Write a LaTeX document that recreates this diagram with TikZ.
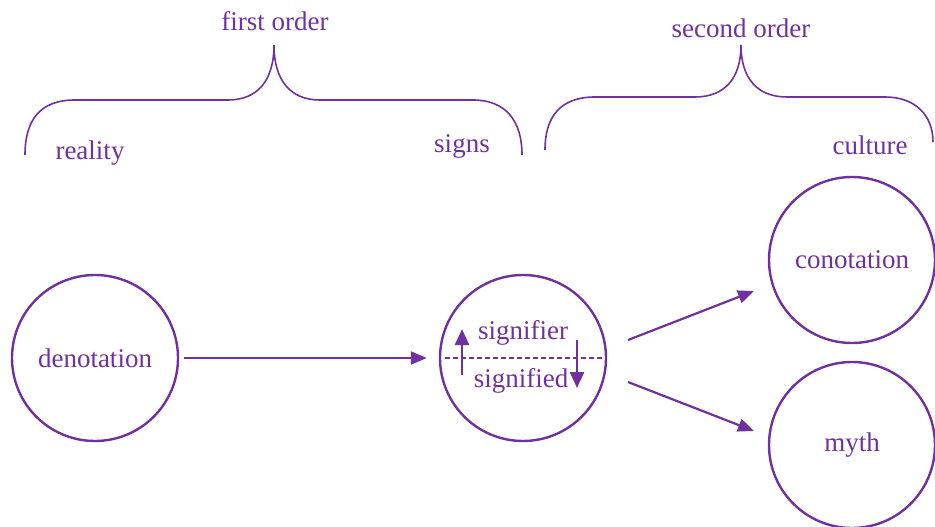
\documentclass[tikz,border=0pt]{standalone}
\usepackage{fontspec}
\setmainfont{Liberation Serif}
\usetikzlibrary{arrows.meta}
\definecolor{purp}{HTML}{7030A0}
\tikzset{
  lbl/.style={text=purp, font=\fontsize{27}{30}\selectfont, inner sep=0pt},
  ring/.style={circle, draw=purp, line width=2.4pt, minimum size=166pt, inner sep=0pt, text=purp, font=\fontsize{27}{30}\selectfont},
  conn/.style={draw=purp, line width=2.2pt, -{Triangle[length=16pt,width=13pt]}},
  brace/.style={draw=purp, line width=1.6pt},
  updown/.style={draw=purp, line width=2.4pt, -{Triangle[length=16pt,width=14pt]}},
}
\begin{document}
\begin{tikzpicture}[x=1pt,y=-1pt]
\useasboundingbox (0,0) rectangle (935,527);
\begin{scope}
\clip (0,0) rectangle (935,527);
% braces
\draw[brace] (25,155) .. controls (25,120) and (40,100) .. (75,100) -- (228,100)
  .. controls (258,100) and (274,80) .. (274,45)
  .. controls (274,80) and (290,100) .. (320,100) -- (473,100)
  .. controls (505,100) and (522,120) .. (522,155);
\draw[brace] (545,150) .. controls (545,117) and (560,97) .. (595,97) -- (695,97)
  .. controls (725,97) and (741,78) .. (741,45)
  .. controls (741,78) and (757,97) .. (787,97) -- (885,97)
  .. controls (915,97) and (933,115) .. (933,142);
% circles
\node[ring] (den) at (95,358) {denotation};
\node[ring] (sig) at (523,358) {};
\node[ring] (con) at (852,260) {conotation};
\node[ring] (myth) at (852,445) {myth};
\end{scope}
% labels
\node[lbl] (fo) at (275,21) {first order};
\node[lbl] (so) at (741,28) {second order};
\node[lbl] (real) at (90,153) {reality};
\node[lbl] (signs) at (462,146) {signs};
\node[lbl] (cult) at (870,145) {culture};
\node[lbl] (sfr) at (523,333) {signifier};
\node[lbl] (sfd) at (521,381) {signified};
% inner details
\coordinate (dl) at (445,358);
\coordinate (dr) at (604,358);
\draw[purp, line width=1.5pt, dash pattern=on 5pt off 3pt] (dl) -- (dr);
\coordinate (ua) at (462,375);
\coordinate (ub) at (462,329);
\coordinate (da) at (577,340);
\coordinate (db) at (577,388);
\draw[updown] (ua) -- (ub);
\draw[updown] (da) -- (db);
% connectors
\coordinate (s1) at (628,340);
\coordinate (s2) at (628,382);
\coordinate (c1) at (754,291);
\coordinate (m1) at (754,431);
\draw[conn] ([xshift=5pt]den.east) -- ([xshift=-12pt]sig.west);
\draw[conn] (s1) -- (c1);
\draw[conn] (s2) -- (m1);
\end{tikzpicture}
\end{document}
